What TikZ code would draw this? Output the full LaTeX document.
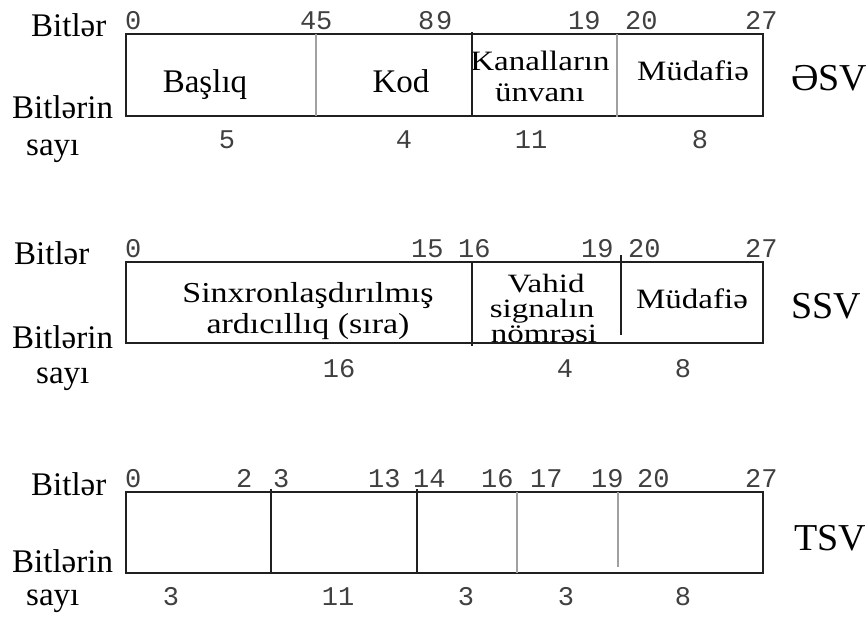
\documentclass[tikz,border=0pt]{standalone}
\usepackage{fontspec}
\usepackage{graphicx}
\setmainfont{Liberation Serif}
\newfontfamily\monof{Liberation Mono}
\newcommand{\vsq}[1]{\scalebox{1}[0.85]{#1}}
\newcommand{\vsqq}[1]{\scalebox{1}[0.8]{#1}}
\newcommand{\serifbig}{\fontsize{33}{36}\selectfont}
\newcommand{\serifmid}{\fontsize{34}{36}\selectfont}
\newcommand{\seriftag}{\fontsize{38}{42}\selectfont}
\newcommand{\monobig}{\monof\fontsize{27}{30}\selectfont}
\definecolor{divgray}{HTML}{A0A0A0}
\definecolor{boxline}{HTML}{202020}
\tikzset{
  x=1pt, y=-1pt,
  lbl/.style={font=\serifbig, anchor=base west, inner sep=0pt},
  num/.style={font=\monobig, anchor=base west, inner sep=0pt, text=black!75},
  cnt/.style={font=\monobig, anchor=base, inner sep=0pt, text=black!75},
  cell/.style={font=\serifbig, anchor=base, inner sep=0pt},
  tag/.style={font=\seriftag, anchor=base west, inner sep=0pt},
  frame/.style={draw=boxline, line width=1.5pt},
  blackdiv/.style={draw=boxline, line width=1.5pt},
  graydiv/.style={draw=divgray, line width=1.5pt},
}
\begin{document}
\begin{tikzpicture}
\useasboundingbox[fill=white] (0,0) rectangle (868,621);

% ---------------- Row 1 : ƏSV ----------------
\node[lbl] (r1bits) at (31,36) {Bitlər};
\node[lbl] (r1cnt1) at (12,118) {Bitlərin};
\node[lbl] (r1cnt2) at (26,155) {sayı};

\node[num] (r1n0) at (125,30) {0};
\node[num] (r1n4) at (300,30) {4};
\node[num] (r1n5) at (316,30) {5};
\node[num] (r1n8) at (418,30) {8};
\node[num] (r1n9) at (436,30) {9};
\node[num] (r1n19) at (568,30) {19};
\node[num] (r1n20) at (625,30) {20};
\node[num] (r1n27) at (745,30) {27};

\node[cell] (r1f1) at (205,92) {Başlıq};
\node[cell] (r1f2) at (401,92) {Kod};
\node[cell] (r1f3a) at (540,70) {\vsq{Kanalların}};
\node[cell] (r1f3b) at (540,101) {\vsq{ünvanı}};
\node[cell] (r1f4) at (693,80) {\vsq{Müdafiə}};

\node[cnt] (r1c1) at (227,148) {5};
\node[cnt] (r1c2) at (404,148) {4};
\node[cnt] (r1c3) at (531,148) {11};
\node[cnt] (r1c4) at (700,148) {8};

\node[tag] (r1tag) at (791,90) {ƏSV};

\draw[frame] (126,34) rectangle (763,116);
\draw[graydiv] (316,34) -- (316,116);
\draw[blackdiv] (472,32) -- (472,117);
\draw[graydiv] (617,34) -- (617,117);

% ---------------- Row 2 : SSV ----------------
\node[lbl] (r2bits) at (14,264) {Bitlər};
\node[lbl] (r2cnt1) at (12,348) {Bitlərin};
\node[lbl] (r2cnt2) at (36,383) {sayı};

\node[num] (r2n0) at (125,257) {0};
\node[num] (r2n15) at (411,257) {15};
\node[num] (r2n16) at (458,257) {16};
\node[num] (r2n19) at (581,257) {19};
\node[num] (r2n20) at (628,257) {20};
\node[num] (r2n27) at (745,257) {27};

\node[cell, font=\serifmid] (r2f1a) at (308,302) {\vsq{Sinxronlaşdırılmış}};
\node[cell, font=\serifmid] (r2f1b) at (308,333) {\vsq{ardıcıllıq (sıra)}};
\node[cell] (r2f2a) at (546,292) {\vsqq{Vahid}};
\node[cell] (r2f2b) at (542,317) {\vsqq{signalın}};
\node[cell] (r2f2c) at (544,342) {\vsqq{nömrəsi}};
\node[cell] (r2f3) at (692,308) {\vsq{Müdafiə}};

\node[cnt] (r2c1) at (339,377) {16};
\node[cnt] (r2c2) at (565,377) {4};
\node[cnt] (r2c3) at (683,377) {8};

\node[tag] (r2tag) at (791,318) {SSV};

\draw[frame] (126,262) rectangle (763,343);
\draw[blackdiv] (472,262) -- (472,346);
\draw[blackdiv] (621,255) -- (621,335);

% ---------------- Row 3 : TSV ----------------
\node[lbl] (r3bits) at (31,495) {Bitlər};
\node[lbl] (r3cnt1) at (12,572) {Bitlərin};
\node[lbl] (r3cnt2) at (26,605) {sayı};

\node[num] (r3n0) at (125,487) {0};
\node[num] (r3n2) at (236,487) {2};
\node[num] (r3n3) at (273,487) {3};
\node[num] (r3n13) at (368,487) {13};
\node[num] (r3n14) at (413,487) {14};
\node[num] (r3n16) at (481,487) {16};
\node[num] (r3n17) at (530,487) {17};
\node[num] (r3n19) at (591,487) {19};
\node[num] (r3n20) at (637,487) {20};
\node[num] (r3n27) at (745,487) {27};

\node[cnt] (r3c1) at (171,605) {3};
\node[cnt] (r3c2) at (338,605) {11};
\node[cnt] (r3c3) at (466,605) {3};
\node[cnt] (r3c4) at (566,605) {3};
\node[cnt] (r3c5) at (683,605) {8};

\node[tag] (r3tag) at (794,550) {TSV};

\draw[frame] (126,492) rectangle (763,573);
\draw[blackdiv] (271,489) -- (271,573);
\draw[blackdiv] (417,489) -- (417,573);
\draw[graydiv] (517,492) -- (517,573);
\draw[graydiv] (618,492) -- (618,567);
\end{tikzpicture}
\end{document}
